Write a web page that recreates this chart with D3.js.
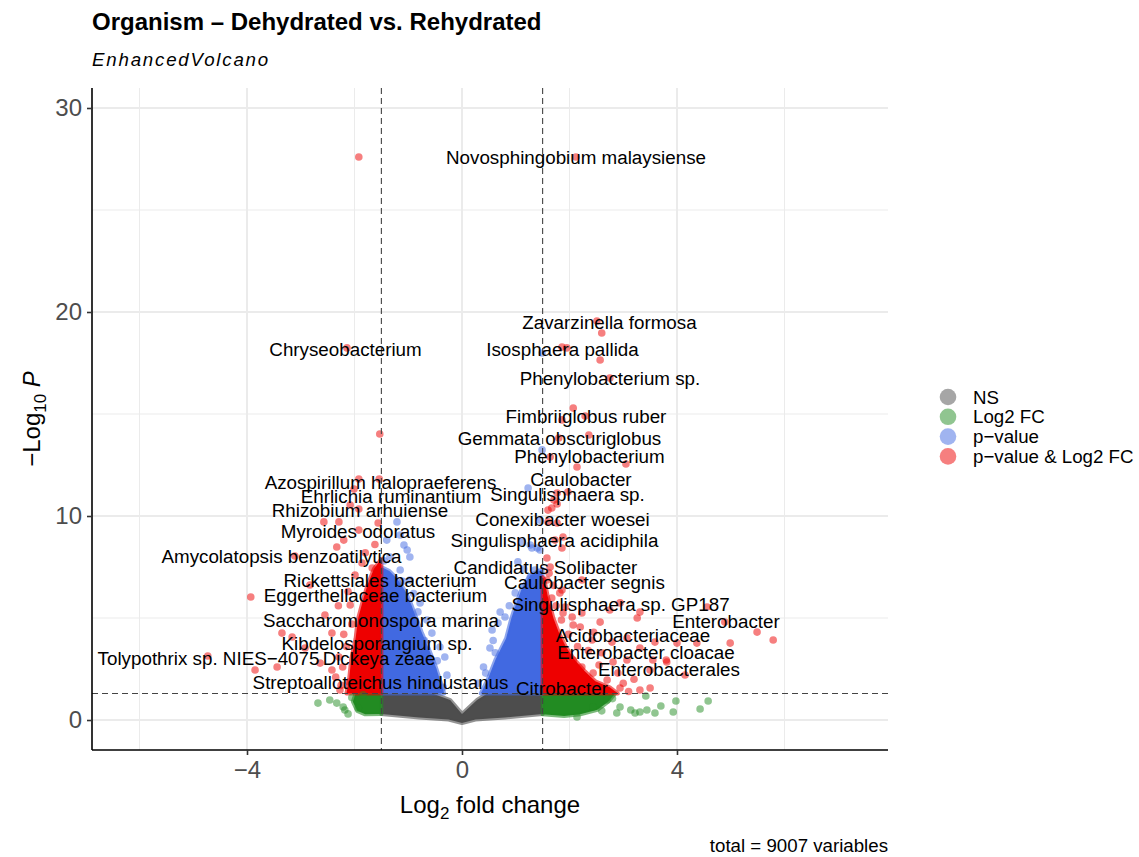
<!DOCTYPE html>
<html>
<head>
<meta charset="utf-8">
<script src="https://cdn.jsdelivr.net/npm/d3@7"></script>
<style>
  body { margin: 0; background: #fff; }
  svg { font-family: "Liberation Sans", Arial, Helvetica, sans-serif; }
</style>
</head>
<body>
<svg width="1139" height="857"></svg>
<script>
var screen = {width: 1139, height: 857}
var margins = {top: 88, right: 251, bottom: 107, left: 92}

// thresholds
var fcCut = 1.5
var pCut = 1.30

// category colours (EnhancedVolcano defaults)
var catNames = ["NS", "Log2 FC", "p\u2212value", "p\u2212value & Log2 FC"]
var catColors = ["#4d4d4d", "#228b22", "#4169e1", "#ee0000"]

var nsCloud = [[-1.5,1.3],[-0.55,1.3],[-0.22,0.98],[0,0.3],[0.28,0.98],[0.47,1.3],[1.5,1.3],
  [1.5,0.3],[0.8,0.12],[0.25,0.02],[0,-0.15],[-0.25,0.02],[-0.8,0.12],[-1.5,0.3]]
var blueLeftCloud = [[-1.5,1.3],[-0.33,1.3],[-0.4,1.9],[-0.5,2.7],[-0.62,3.5],[-0.75,4.3],[-0.85,5.0],
  [-0.95,5.7],[-1.05,6.3],[-1.2,6.9],[-1.35,7.3],[-1.5,7.5]]
var blueRightCloud = [[0.35,1.3],[1.5,1.3],[1.5,7.4],[1.27,7.1],[1.12,6.5],[1.02,5.8],[0.92,5.0],
  [0.82,4.0],[0.63,3.0],[0.48,2.0]]
var redLeftCloud = [[-1.5,1.3],[-2.15,1.3],[-2.1,2.0],[-2.06,3.0],[-1.98,4.0],[-1.93,5.0],[-1.84,5.9],
  [-1.76,6.6],[-1.64,7.4],[-1.5,7.9]]
var redRightCloud = [[1.5,1.3],[2.9,1.3],[2.75,1.6],[2.48,1.9],[2.28,2.4],[2.08,3.0],[1.93,3.6],
  [1.8,4.3],[1.7,5.0],[1.6,6.0],[1.53,6.9],[1.5,7.0]]
var greenLeftCloud = [[-1.5,1.3],[-1.98,1.3],[-2.03,0.9],[-1.95,0.45],[-1.8,0.28],[-1.5,0.3]]
var greenRightCloud = [[1.5,1.3],[2.85,1.3],[2.72,0.9],[2.52,0.5],[2.2,0.28],[1.9,0.2],[1.5,0.28]]

// scattered points
var redPoints = [
  [-1.92,27.60],[2.12,27.60],[2.51,19.56],[2.60,18.97],[1.86,18.28],[1.95,18.24],[2.57,17.65],
  [2.75,16.76],[2.07,15.29],[2.29,14.90],[1.86,14.71],[2.36,13.97],[1.80,13.82],[-2.14,18.24],
  [-1.53,14.02],[1.64,12.89],[3.05,12.55],[2.14,12.40],[1.97,11.18],[1.77,11.13],[1.71,10.78],
  [1.60,10.29],[1.77,10.59],[1.60,9.71],[1.77,9.66],[1.86,8.43],[1.73,8.82],[1.58,7.94],[1.64,7.50],
  [2.23,6.86],[1.67,10.39],[1.88,8.97],[1.58,6.86],[1.86,6.37],[1.92,5.54],[1.67,5.98],[2.57,4.80],
  [2.75,5.39],[2.23,5.25],[2.05,5.05],[2.94,5.74],[3.31,5.29],[3.26,5.00],[1.88,5.25],[4.56,5.54],
  [4.89,4.80],[5.49,4.31],[5.79,3.92],[4.99,3.77],[4.37,3.77],[4.00,3.77],[4.15,2.21],[3.81,2.84],
  [3.50,2.45],[3.55,2.94],[2.20,4.56],[2.07,4.66],[1.82,6.23],[2.42,3.92],[2.79,3.82],[3.07,4.02],
  [3.31,3.53],[3.59,3.82],[3.07,2.94],[2.81,2.84],[2.07,2.94],[2.23,2.60],[3.50,1.57],[3.31,1.47],
  [2.94,1.57],[2.70,1.96],[2.44,2.30],[3.80,2.94],[2.60,3.30],[2.35,3.40],[2.90,2.30],[3.20,2.00],
  [2.65,1.45],[2.45,4.30],[1.98,4.20],[1.85,4.90],[1.75,5.60],[2.15,3.60],[2.55,2.70],[3.00,1.80],
  [3.10,1.40],[2.30,2.05],[1.70,6.60],[1.62,7.20],
  [-1.92,11.81],[-1.54,11.81],[-2.01,11.32],[-2.08,10.54],[-1.92,10.34],[-2.57,9.71],[-2.29,9.71],
  [-1.56,9.66],[-1.92,9.31],[-2.20,8.82],[-2.33,8.48],[-3.11,8.04],[-1.86,7.70],[-1.67,7.45],
  [-2.83,6.62],[-3.93,6.03],[-1.99,7.11],[-2.08,5.64],[-1.73,5.74],[-2.55,5.15],[-3.35,4.26],
  [-3.16,4.07],[-2.42,4.26],[-2.92,3.53],[-4.73,3.14],[-3.44,2.60],[-3.85,2.45],[-2.64,2.79],
  [-2.42,2.45],[-2.10,1.86],[-2.29,3.09],[-2.27,1.47],[-2.30,5.60],[-2.20,4.20],[-2.35,2.10],
  [-2.12,6.30],[-2.05,4.70],[-2.15,3.60],[-2.22,2.60],[-1.80,8.20],[-1.62,8.60],[-2.25,1.70]
]
var bluePoints = [
  [-1.21,9.71],[-1.40,8.82],[-1.15,9.07],[-1.02,8.33],[-1.34,7.99],[-1.15,7.35],[-0.97,6.86],
  [-1.28,6.62],[-1.08,8.58],[-0.97,7.99],[-0.78,5.74],[-0.56,4.26],[-0.41,3.58],[-0.32,3.09],
  [-0.54,2.45],[-0.90,6.20],[-0.65,4.90],[-0.28,2.20],[-0.35,1.60],[-0.46,2.90],[-0.70,3.90],
  [-0.82,5.30],[-1.45,7.80],[-1.10,6.80],
  [1.23,11.37],[1.45,8.33],[1.30,8.43],[1.12,8.73],[1.36,7.35],[0.99,6.23],[0.80,5.05],[0.67,4.75],
  [0.56,4.41],[1.36,5.54],[1.49,17.99],[1.49,13.24],[1.04,7.75],[1.27,7.01],[1.27,8.58],[1.40,8.43],
  [1.45,9.80],[0.71,5.29],[0.52,3.53],[0.58,3.90],[0.40,2.60],[0.30,1.80],[0.44,2.30],[0.88,5.60],
  [1.15,7.40],[0.62,3.30]
]
var greenPoints = [
  [3.42,1.18],[3.98,0.93],[3.70,0.69],[4.43,0.54],[4.58,0.93],[2.88,0.34],[3.22,0.34],[3.31,0.39],
  [3.44,0.49],[3.59,0.34],[3.93,0.39],[2.14,0.15],[2.44,0.64],[2.70,0.98],[3.14,0.49],[2.94,0.64],
  [2.80,1.05],[2.60,0.45],
  [-2.33,0.83],[-2.21,0.64],[-1.93,0.59],[-1.84,1.23],[-2.68,0.83],[-2.46,0.98],[-2.18,0.49],
  [-2.05,1.10],[-2.12,0.30]
]

// labelled organisms at label position
var labelNames = ["Novosphingobium malaysiense","Zavarzinella formosa","Chryseobacterium","Isosphaera pallida",
  "Phenylobacterium sp.","Fimbriiglobus ruber","Gemmata obscuriglobus","Phenylobacterium",
  "Azospirillum halopraeferens","Caulobacter","Ehrlichia ruminantium","Singulisphaera sp.",
  "Rhizobium arhuiense","Conexibacter woesei","Myroides odoratus","Singulisphaera acidiphila",
  "Amycolatopsis benzoatilytica","Candidatus Solibacter","Rickettsiales bacterium","Caulobacter segnis",
  "Eggerthellaceae bacterium","Singulisphaera sp. GP187","Saccharomonospora marina","Enterobacter",
  "Acidobacteriaceae","Kibdelosporangium sp.","Enterobacter cloacae","Tolypothrix sp. NIES\u22124075",
  "Dickeya zeae","Enterobacterales","Streptoalloteichus hindustanus","Citrobacter"]
var labelFC = [2.121,2.744,-2.167,1.870,2.753,2.307,1.814,2.372,-1.516,2.214,-1.321,1.963,-1.898,1.870,
  -1.935,1.721,-3.358,1.553,-1.526,2.279,-1.609,2.949,-1.507,4.912,3.181,-1.581,3.423,-4.716,-1.544,
  3.851,-1.516,1.860]
var labelP = [27.60,19.51,18.19,18.19,16.72,14.90,13.82,12.94,11.67,11.81,10.98,11.08,10.29,9.85,9.22,
  8.82,8.04,7.50,6.86,6.76,6.13,5.69,4.90,4.85,4.17,3.77,3.33,3.04,3.04,2.50,1.86,1.57]

var xTicks = [-4, 0, 4]
var xMinor = [-6, -2, 2, 6]
var yTicks = [0, 10, 20, 30]
var yMinor = [5, 15, 25]

var svg = d3.select("svg")
var width = screen.width - margins.left - margins.right
var height = screen.height - margins.top - margins.bottom

var xScale = d3.scaleLinear().domain([-6.884, 7.926]).range([margins.left, margins.left + width])
var yScale = d3.scaleLinear().domain([-1.47, 30.98]).range([margins.top + height, margins.top])

// grid
var grid = svg.append("g")
grid.selectAll(".xminor").data(xMinor).enter().append("line")
    .attr("x1", d => xScale(d)).attr("x2", d => xScale(d))
    .attr("y1", margins.top).attr("y2", margins.top + height)
    .attr("stroke", "#ebebeb").attr("stroke-width", 1)
grid.selectAll(".yminor").data(yMinor).enter().append("line")
    .attr("y1", d => yScale(d)).attr("y2", d => yScale(d))
    .attr("x1", margins.left).attr("x2", margins.left + width)
    .attr("stroke", "#ebebeb").attr("stroke-width", 1)
grid.selectAll(".xmajor").data(xTicks).enter().append("line")
    .attr("x1", d => xScale(d)).attr("x2", d => xScale(d))
    .attr("y1", margins.top).attr("y2", margins.top + height)
    .attr("stroke", "#ebebeb").attr("stroke-width", 2)
grid.selectAll(".ymajor").data(yTicks).enter().append("line")
    .attr("y1", d => yScale(d)).attr("y2", d => yScale(d))
    .attr("x1", margins.left).attr("x2", margins.left + width)
    .attr("stroke", "#ebebeb").attr("stroke-width", 2)

// dense clouds
var line = d3.line().x(d => xScale(d[0])).y(d => yScale(d[1])).curve(d3.curveLinearClosed)
var clouds = [
  {pts: nsCloud, c: 0}, {pts: greenLeftCloud, c: 1}, {pts: greenRightCloud, c: 1},
  {pts: blueLeftCloud, c: 2}, {pts: blueRightCloud, c: 2},
  {pts: redLeftCloud, c: 3}, {pts: redRightCloud, c: 3}
]
svg.append("g").selectAll("path").data(clouds).enter().append("path")
    .attr("d", d => line(d.pts))
    .attr("fill", d => catColors[d.c])
    .attr("stroke", d => catColors[d.c])
    .attr("stroke-opacity", 0.6)
    .attr("stroke-width", 4)
    .attr("stroke-linejoin", "round")

var drawPoints = function(data, col)
{
    svg.append("g").selectAll("circle").data(data).enter().append("circle")
        .attr("cx", d => xScale(d[0]))
        .attr("cy", d => yScale(d[1]))
        .attr("r", 3.8)
        .attr("fill", col)
        .attr("fill-opacity", 0.5)
}
drawPoints(greenPoints, catColors[1])
drawPoints(bluePoints, catColors[2])
drawPoints(redPoints, catColors[3])

// cut-off lines
var cuts = svg.append("g").attr("stroke", "#444").attr("stroke-width", 1.1).attr("stroke-dasharray", "6,4")
;[-fcCut, fcCut].forEach(function(v) {
    cuts.append("line").attr("x1", xScale(v)).attr("x2", xScale(v))
        .attr("y1", margins.top).attr("y2", margins.top + height)
})
cuts.append("line").attr("x1", margins.left).attr("x2", margins.left + width)
    .attr("y1", yScale(pCut)).attr("y2", yScale(pCut))

// labels
svg.append("g").selectAll("text").data(labelNames).enter().append("text")
    .attr("x", (d, i) => xScale(labelFC[i]))
    .attr("y", (d, i) => yScale(labelP[i]))
    .attr("dy", "0.35em")
    .attr("text-anchor", "middle")
    .attr("font-size", "18.8px")
    .attr("fill", "#000")
    .text(d => d)

// axes
var xAxis = d3.axisBottom(xScale).tickValues(xTicks).tickSize(5).tickPadding(6)
var yAxis = d3.axisLeft(yScale).tickValues(yTicks).tickSize(5).tickPadding(5)
var gx = svg.append("g").attr("transform", "translate(0," + (margins.top + height) + ")").call(xAxis)
var gy = svg.append("g").attr("transform", "translate(" + margins.left + ",0)").call(yAxis)
;[gx, gy].forEach(function(g) {
    g.select(".domain").attr("stroke", "#000").attr("stroke-width", 1.6)
    g.selectAll(".tick line").attr("stroke", "#333").attr("stroke-width", 1.6)
    g.selectAll(".tick text").attr("fill", "#4d4d4d").attr("font-size", "24px")
        .attr("font-family", "Liberation Sans, Arial, sans-serif")
})
gx.select(".domain").attr("d", "M" + margins.left + ",0H" + (margins.left + width))
gy.select(".domain").attr("d", "M0," + (margins.top + height) + "V" + margins.top)

// axis titles
var xt = svg.append("text").attr("x", margins.left + width / 2).attr("y", 813)
    .attr("text-anchor", "middle").attr("font-size", "24px").attr("fill", "#000")
xt.append("tspan").text("Log")
xt.append("tspan").attr("font-size", "17px").attr("dy", 6).text("2")
xt.append("tspan").attr("dy", -6).text(" fold change")

var yt = svg.append("text").attr("transform", "translate(40," + (margins.top + height / 2) + ") rotate(-90)")
    .attr("text-anchor", "middle").attr("font-size", "24px").attr("fill", "#000")
yt.append("tspan").text("\u2212Log")
yt.append("tspan").attr("font-size", "17px").attr("dy", 6).text("10")
yt.append("tspan").attr("dy", -6).attr("font-style", "italic").text(" P")

// title, subtitle, caption
svg.append("text").attr("x", margins.left).attr("y", 30)
    .attr("font-size", "24px").attr("font-weight", "bold").attr("fill", "#000")
    .text("Organism \u2013 Dehydrated vs. Rehydrated")
svg.append("text").attr("x", margins.left).attr("y", 66)
    .attr("font-size", "18.7px").attr("font-style", "italic").attr("letter-spacing", "1.8px").attr("fill", "#000")
    .text("EnhancedVolcano")
svg.append("text").attr("x", margins.left + width).attr("y", 852)
    .attr("text-anchor", "end").attr("font-size", "18.7px").attr("fill", "#000")
    .text("total = 9007 variables")

// legend
var legend = svg.append("g").attr("transform", "translate(948,397)")
var lg = legend.selectAll("g").data(catNames).enter().append("g")
    .attr("transform", (d, i) => "translate(0," + i * 19.8 + ")")
lg.append("circle").attr("r", 8.3).attr("fill", (d, i) => catColors[i]).attr("fill-opacity", 0.5)
lg.append("text").attr("x", 25).attr("dy", "0.35em").attr("font-size", "18.7px").attr("fill", "#000").text(d => d)
</script>
</body>
</html>
